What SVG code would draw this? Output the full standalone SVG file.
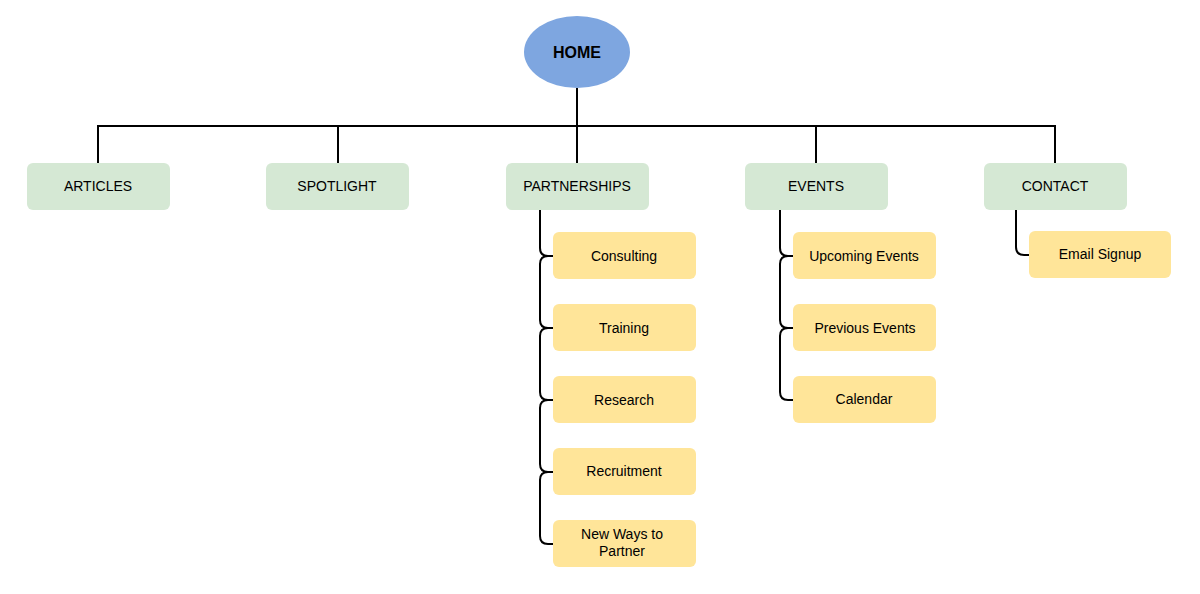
<svg xmlns="http://www.w3.org/2000/svg" width="1200" height="594" viewBox="0 0 1200 594">
<style>
.l{fill:#d5e8d4;}
.c{fill:#ffe599;}
text{font-family:"Liberation Sans",Arial,sans-serif;font-size:14px;fill:#000;text-anchor:middle;dominant-baseline:central;}
.w{fill:none;stroke:#000;stroke-width:2;}
</style>
<rect width="1200" height="594" fill="#fff"/>
<g id="connectors" class="w">
<path d="M577,88 V126 M98,163 V126 H1055 V163 M338,126 V163 M577,126 V163 M816,126 V163"/>
<path d="M540,210 V248 Q540,256 548,256 H553"/>
<path d="M548,256 Q540,256 540,264 V320 Q540,328 548,328 H553"/>
<path d="M548,328 Q540,328 540,336 V392 Q540,400 548,400 H553"/>
<path d="M548,400 Q540,400 540,408 V464 Q540,472 548,472 H553"/>
<path d="M548,472 Q540,472 540,480 V536 Q540,544 548,544 H553"/>
<path d="M780,210 V248 Q780,256 788,256 H793"/>
<path d="M788,256 Q780,256 780,264 V320 Q780,328 788,328 H793"/>
<path d="M788,328 Q780,328 780,336 V392 Q780,400 788,400 H793"/>
<path d="M1016,210 V247 Q1016,255 1024,255 H1029"/>
</g>
<g id="home"><ellipse cx="577" cy="52" rx="53" ry="36" fill="#7ea6e0"/><text x="577" y="52" font-weight="bold" style="font-size:16px">HOME</text></g>
<g id="articles"><rect class="l" x="27" y="163" width="143" height="47" rx="6"/><text x="98" y="186">ARTICLES</text></g>
<g id="spotlight"><rect class="l" x="266" y="163" width="143" height="47" rx="6"/><text x="337" y="186">SPOTLIGHT</text></g>
<g id="partnerships"><rect class="l" x="506" y="163" width="143" height="47" rx="6"/><text x="577" y="186">PARTNERSHIPS</text></g>
<g id="events"><rect class="l" x="745" y="163" width="143" height="47" rx="6"/><text x="816" y="186">EVENTS</text></g>
<g id="contact"><rect class="l" x="984" y="163" width="143" height="47" rx="6"/><text x="1055" y="186">CONTACT</text></g>
<g id="consulting"><rect class="c" x="553" y="232" width="143" height="47" rx="6"/><text x="624" y="256">Consulting</text></g>
<g id="training"><rect class="c" x="553" y="304" width="143" height="47" rx="6"/><text x="624" y="328">Training</text></g>
<g id="research"><rect class="c" x="553" y="376" width="143" height="47" rx="6"/><text x="624" y="400">Research</text></g>
<g id="recruitment"><rect class="c" x="553" y="448" width="143" height="47" rx="6"/><text x="624" y="471">Recruitment</text></g>
<g id="newways"><rect class="c" x="553" y="520" width="143" height="47" rx="6"/><text x="622" y="534">New Ways to</text><text x="622" y="551">Partner</text></g>
<g id="upcoming"><rect class="c" x="793" y="232" width="143" height="47" rx="6"/><text x="864" y="256">Upcoming Events</text></g>
<g id="previous"><rect class="c" x="793" y="304" width="143" height="47" rx="6"/><text x="865" y="328">Previous Events</text></g>
<g id="calendar"><rect class="c" x="793" y="376" width="143" height="47" rx="6"/><text x="864" y="399">Calendar</text></g>
<g id="email"><rect class="c" x="1029" y="231" width="142" height="47" rx="6"/><text x="1100" y="254">Email Signup</text></g>
</svg>
